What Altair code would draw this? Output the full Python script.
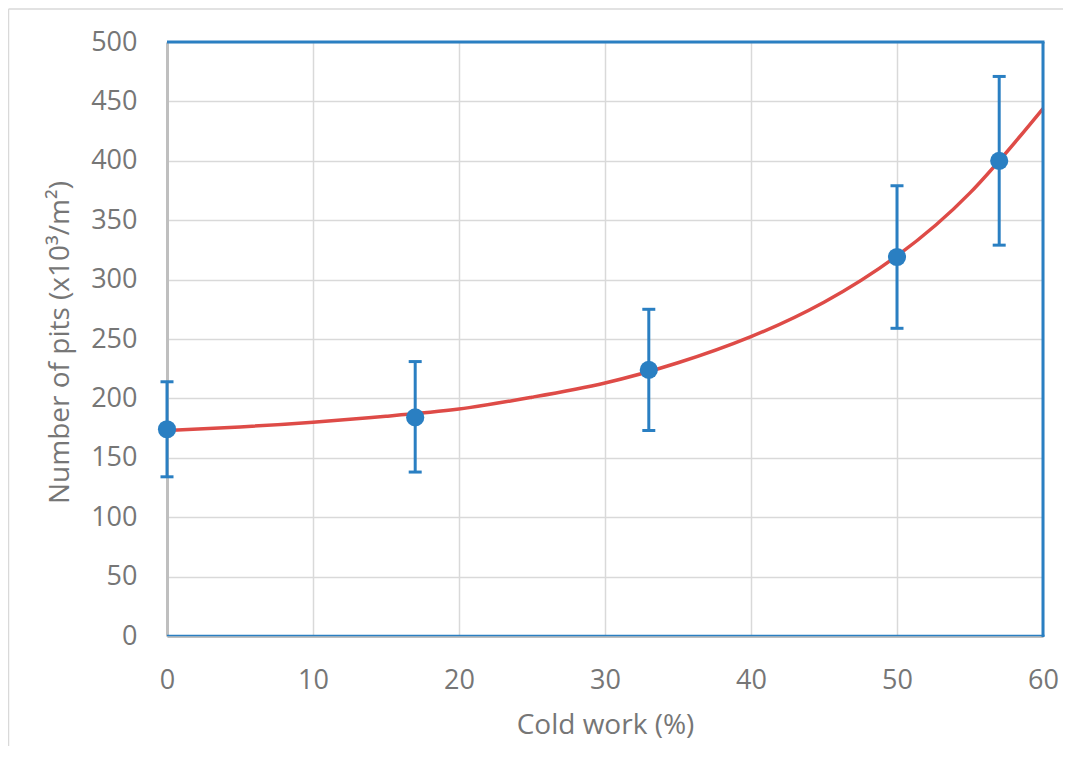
import altair as alt
import pandas as pd

# Measured data points (cold work %, number of pits x10^3/m^2)
cold_work = [0, 17, 33, 50, 57]
pits = [174, 184, 224, 319, 400]
err_low = [134, 138, 173, 259, 329]
err_high = [214, 231, 275, 379, 471]

# Trend line
fit_x = [0, 5, 10, 15, 20, 25, 30, 35, 40, 45, 50, 55, 60]
fit_y = [173, 176, 180, 185, 191, 201, 213, 230, 252, 281, 320, 373, 444]

x_ticks = [0, 10, 20, 30, 40, 50, 60]
y_ticks = [0, 50, 100, 150, 200, 250, 300, 350, 400, 450, 500]

pts = pd.DataFrame({"cw": cold_work, "pits": pits, "lo": err_low, "hi": err_high})
fit = pd.DataFrame({"cw": fit_x, "pits": fit_y})
one = pd.DataFrame({"a": [0]})

BLUE = "#2A7FC2"
RED = "#DE4B47"
GRAY_TXT = "#767676"

xscale = alt.Scale(domain=[0, 60], nice=False, zero=False)
yscale = alt.Scale(domain=[0, 500], nice=False)

xaxis = alt.Axis(values=x_ticks, title="Cold work (%)", labelPadding=31, labelFlush=False,
                 titleX=438, titleY=89, titleBaseline="middle", titleAnchor="middle")
yaxis = alt.Axis(values=y_ticks, title="Number of pits (x10³/m²)", labelPadding=30, labelFlush=False,
                 titleX=-107, titleY=300, titleBaseline="middle", titleAnchor="middle")

def X(f):
    return alt.X(f, type="quantitative", scale=xscale, axis=xaxis)

def Y(f):
    return alt.Y(f, type="quantitative", scale=yscale, axis=yaxis)

frame_left = alt.Chart(one).mark_rule(color="#D9D9D9", strokeWidth=1.5).encode(
    x=alt.value(-158.5), y=alt.value(-33), y2=alt.value(740))
frame_top = alt.Chart(one).mark_rule(color="#D9D9D9", strokeWidth=1.5).encode(
    x=alt.value(-158.5), x2=alt.value(920), y=alt.value(-33))

border_top = alt.Chart(one).mark_rule(color=BLUE, strokeWidth=3).encode(
    x=alt.value(0), x2=alt.value(877.5), y=alt.value(0))
border_right = alt.Chart(one).mark_rule(color=BLUE, strokeWidth=3).encode(
    x=alt.value(876), y=alt.value(0), y2=alt.value(595))
border_bottom = alt.Chart(one).mark_rule(color=BLUE, strokeWidth=1.5).encode(
    x=alt.value(0), x2=alt.value(877.5), y=alt.value(593.5))

bars = alt.Chart(pts).mark_rule(color=BLUE, strokeWidth=3).encode(
    x=X("cw"), y=Y("lo"), y2="hi")
cap_lo = alt.Chart(pts).mark_tick(color=BLUE, orient="horizontal", size=13, thickness=3, opacity=1).encode(
    x=X("cw"), y=Y("lo"))
cap_hi = alt.Chart(pts).mark_tick(color=BLUE, orient="horizontal", size=13, thickness=3, opacity=1).encode(
    x=X("cw"), y=Y("hi"))
line = alt.Chart(fit).mark_line(color=RED, strokeWidth=3.5, interpolate="natural").encode(
    x=X("cw"), y=Y("pits"))
points = alt.Chart(pts).mark_circle(color=BLUE, size=330, opacity=1).encode(
    x=X("cw"), y=Y("pits"))

chart = alt.layer(
    line, bars, cap_lo, cap_hi, points,
    border_top, border_right, border_bottom, frame_left, frame_top
).properties(
    width=876, height=594,
    autosize=alt.AutoSizeParams(type="none"),
    padding={"left": 159, "top": 34, "right": 20, "bottom": 110},
    background="white",
).configure_view(
    stroke=None
).configure_axis(
    grid=True, gridColor="#D9D9D9", gridWidth=1.5,
    domainColor="#BFBFBF", domainWidth=3,
    ticks=False,
    labelFont="Open Sans", labelFontSize=27, labelColor=GRAY_TXT,
    titleFont="Open Sans", titleFontSize=28, titleColor=GRAY_TXT, titleFontWeight="normal",
)

chart.save("out.html", embed_options={"renderer": "svg", "actions": False})
